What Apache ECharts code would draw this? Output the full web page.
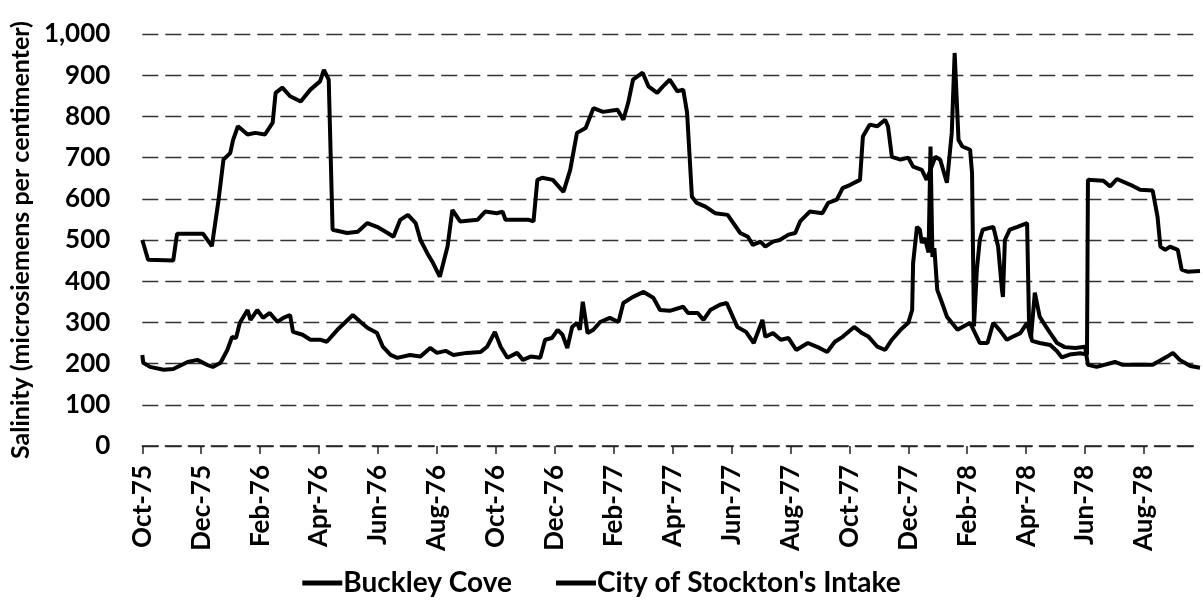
<!DOCTYPE html>
<html>
<head>
<meta charset="utf-8">
<title>Salinity</title>
<script src="https://cdn.jsdelivr.net/npm/echarts@6/dist/echarts.min.js"></script>
<style>
  html, body { margin: 0; padding: 0; background: #fff; }
  #chart { width: 1203px; height: 606px; }
</style>
</head>
<body>
<div id="chart"></div>
<script>
// x values are days since 1 Oct 1975; a tick label every 61 days
const tickLabels = ['Oct-75', 'Dec-75', 'Feb-76', 'Apr-76', 'Jun-76', 'Aug-76', 'Oct-76', 'Dec-76', 'Feb-77',
  'Apr-77', 'Jun-77', 'Aug-77', 'Oct-77', 'Dec-77', 'Feb-78', 'Apr-78', 'Jun-78', 'Aug-78'];
const tickStep = 61;
const lastDay = 1095;

const buckleyDays = [0, 6, 32, 36, 63, 72, 79, 84, 91, 94, 99, 109, 117, 127, 135, 138, 145, 153, 164, 174, 184, 188, 193, 197,
  212, 223, 233, 243, 254, 260, 267, 275, 283, 288, 295, 301, 308, 316, 321, 329, 347, 355, 367, 373, 376, 400, 405, 409,
  414, 425, 436, 443, 450, 459, 467, 477, 492, 498, 503, 508, 518, 524, 533, 539, 546, 554, 560, 564, 569, 574, 583, 593,
  606, 619, 627, 632, 640, 645, 653, 660, 669, 676, 681, 691, 704, 710, 719, 725, 733, 743, 746, 753, 761, 769, 772, 776,
  785, 793, 798, 807, 812, 821, 826, 833, 838, 841, 845, 849, 857, 859, 861, 864, 867, 870, 881, 886, 890, 891, 893, 898,
  906, 916, 918, 921, 929, 940, 947, 952, 960, 971, 978, 979, 995, 1002, 1009, 1023, 1033, 1046, 1051, 1054, 1059, 1064,
  1072, 1076, 1082, 1095];
const buckleyValues = [500, 452, 450, 515, 515, 485, 598, 695, 711, 743, 776, 756, 760, 756, 785, 857, 870, 849, 836, 865, 885, 913, 889, 525,
  517, 520, 541, 532, 517, 508, 549, 561, 541, 500, 468, 444, 411, 484, 573, 545, 549, 569, 565, 569, 549, 549, 545, 646,
  651, 646, 617, 670, 760, 772, 820, 811, 816, 792, 833, 889, 906, 873, 857, 873, 889, 861, 865, 809, 605, 590, 581, 565,
  561, 517, 508, 488, 496, 484, 496, 500, 513, 517, 545, 569, 565, 590, 598, 626, 634, 646, 751, 780, 776, 792, 776, 702,
  695, 700, 678, 670, 646, 702, 695, 639, 760, 954, 743, 727, 719, 663, 290, 428, 500, 525, 532, 484, 379, 362, 500, 525,
  532, 541, 299, 255, 250, 245, 230, 215, 222, 225, 222, 646, 644, 630, 648, 634, 622, 620, 557, 484, 476, 484,
  476, 428, 423, 425];

const stocktonDays = [0, 1, 8, 22, 32, 47, 57, 67, 73, 81, 88, 93, 97, 101, 109, 112, 119, 125, 132, 140, 146, 153, 156, 166,
  174, 184, 191, 202, 218, 226, 233, 243, 249, 257, 264, 277, 288, 298, 305, 314, 322, 336, 350, 357, 365, 371, 378, 388,
  394, 402, 412, 417, 424, 430, 435, 440, 445, 450, 453, 456, 461, 467, 474, 484, 493, 498, 508, 519, 529, 536, 546, 560,
  565, 575, 581, 588, 598, 605, 616, 625, 633, 642, 645, 653, 661, 669, 677, 689, 701, 709, 717, 725, 737, 745, 752, 761,
  769, 776, 785, 793, 797, 798, 802, 805, 807, 810, 814, 816, 818, 820, 823, 828, 833, 844, 850, 857, 864, 867, 875, 881,
  888, 895, 901, 909, 916, 920, 924, 929, 933, 940, 947, 955, 966, 976, 979, 988, 1007, 1015, 1046, 1061, 1067, 1074, 1085, 1095];
const stocktonValues = [221, 202, 192, 185, 187, 204, 209, 197, 192, 202, 233, 265, 262, 299, 330, 306, 330, 311, 323, 301, 311, 318, 277, 270,
  258, 258, 253, 282, 318, 301, 287, 274, 241, 221, 214, 221, 217, 238, 226, 231, 221, 226, 228, 241, 277, 241, 214, 226,
  209, 217, 214, 258, 262, 282, 270, 238, 289, 299, 282, 350, 274, 282, 301, 311, 301, 347, 362, 374, 360, 330, 328, 338,
  323, 323, 306, 330, 343, 347, 289, 277, 250, 306, 265, 274, 258, 262, 233, 250, 238, 228, 253, 265, 289, 274, 265, 241,
  233, 258, 282, 299, 330, 444, 532, 525, 493, 505, 470, 727, 459, 480, 379, 347, 314, 282, 290, 299, 265, 250, 250, 299,
  280, 258, 265, 274, 299, 262, 372, 314, 299, 274, 250, 240, 238, 241, 197, 192, 204, 197, 197, 217, 226, 209, 194, 190];

const yTicks = [0, 100, 200, 300, 400, 500, 600, 700, 800, 900, 1000];

const tickDays = tickLabels.map((_, i) => i * tickStep);
const pairs = (xs, ys) => xs.map((x, i) => [x, ys[i]]);

const chart = echarts.init(document.getElementById('chart'));
const font = 'Lato';

chart.setOption({
  animation: false,
  textStyle: { fontFamily: font, color: '#000' },
  grid: { left: 142, right: 3, top: 34, bottom: 160 },
  legend: {
    bottom: 4,
    left: 'center',
    icon: 'rect',
    itemWidth: 40,
    itemHeight: 5,
    itemGap: 44,
    textStyle: { fontFamily: font, fontSize: 28, fontWeight: 'bold', color: '#000', padding: [0, 0, 0, -4] },
    data: ['Buckley Cove', "City of Stockton's Intake"]
  },
  xAxis: {
    type: 'value',
    min: 0,
    max: lastDay,
    interval: tickStep,
    splitLine: { show: false },
    axisLine: { show: true, lineStyle: { color: '#222', width: 1.5, type: [16, 7] } },
    axisTick: { show: true, length: 8, customValues: tickDays, lineStyle: { color: '#222', width: 1.5 } },
    axisLabel: {
      customValues: tickDays,
      rotate: 90,
      margin: 19,
      fontSize: 26,
      fontWeight: 'bold',
      color: '#000',
      formatter: v => tickLabels[Math.round(v / tickStep)] || ''
    }
  },
  yAxis: {
    type: 'value',
    min: yTicks[0],
    max: yTicks[yTicks.length - 1],
    interval: 100,
    name: 'Salinity (microsiemens per centimenter)',
    nameLocation: 'middle',
    nameGap: 104,
    nameTextStyle: { fontSize: 25, fontWeight: 'bold', color: '#000' },
    axisLine: { show: false },
    axisTick: { show: false },
    splitLine: { lineStyle: { color: '#333', width: 1.4, type: [16, 7] } },
    axisLabel: {
      margin: 32,
      fontSize: 26,
      fontWeight: 'bold',
      color: '#000',
      formatter: v => v.toLocaleString('en-US')
    }
  },
  series: [
    {
      name: 'Buckley Cove',
      type: 'line',
      data: pairs(buckleyDays, buckleyValues),
      showSymbol: false,
      color: '#000',
      lineStyle: { color: '#000', width: 4 }
    },
    {
      name: "City of Stockton's Intake",
      type: 'line',
      data: pairs(stocktonDays, stocktonValues),
      showSymbol: false,
      color: '#000',
      lineStyle: { color: '#000', width: 4 }
    }
  ]
});
</script>
</body>
</html>
